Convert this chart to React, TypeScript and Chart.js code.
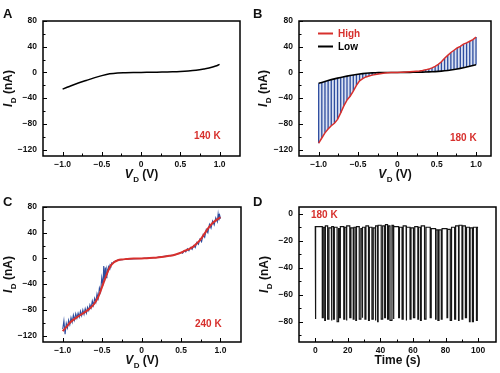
import React, { useEffect, useRef } from "react";
import { Chart, registerables } from "chart.js";

Chart.register(...registerables);

const FONT = "'Liberation Sans', Arial, Helvetica, sans-serif";
const RED = "#d7302d";
const BLUE = "#2e4d9f";
const INK = "#111111";

// ---------- Panel A (140 K) ----------
const vA = [-1.0, -0.95, -0.9, -0.8, -0.7, -0.6, -0.5, -0.4, -0.3, -0.2, -0.1, 0, 0.1, 0.2, 0.3, 0.4, 0.5, 0.6, 0.7, 0.8, 0.9, 0.95, 1.0];
const iA = [-26, -23.5, -21, -16.5, -12.5, -8.5, -5, -2.2, -0.8, -0.4, -0.15, 0, 0.2, 0.4, 0.7, 1.0, 1.5, 2.3, 3.5, 5.5, 8, 10, 12.5];

// ---------- Panel B (180 K) ----------
const vB = [-1, -0.96, -0.92, -0.88, -0.84, -0.8, -0.76, -0.72, -0.68, -0.64, -0.6, -0.56, -0.52, -0.48, -0.44, -0.4, -0.36, -0.32, -0.28, -0.24, -0.2, -0.16, -0.12, -0.08, -0.04, 0, 0.04, 0.08, 0.12, 0.16, 0.2, 0.24, 0.28, 0.32, 0.36, 0.4, 0.44, 0.48, 0.52, 0.56, 0.6, 0.64, 0.68, 0.72, 0.76, 0.8, 0.84, 0.88, 0.92, 0.96, 1];
const lowB = [-17, -15.5, -14, -12.5, -11.2, -10, -8.9, -7.8, -6.8, -5.8, -4.9, -4.0, -3.2, -2.5, -1.9, -1.4, -1.0, -0.7, -0.45, -0.3, -0.2, -0.1, -0.05, 0, 0, 0, 0, 0.05, 0.1, 0.15, 0.2, 0.3, 0.4, 0.5, 0.6, 0.8, 1.0, 1.3, 1.6, 2.0, 2.5, 3.1, 3.8, 4.6, 5.4, 6.3, 7.3, 8.4, 9.6, 10.8, 12];
const highB = [-110, -102, -94, -88, -83, -79, -73, -63, -52, -43, -37, -29, -20, -13, -9.5, -7, -5.5, -4.2, -3.2, -2.4, -1.6, -1.0, -0.6, -0.3, -0.1, 0, 0.1, 0.3, 0.6, 0.9, 1.3, 1.8, 2.3, 3.0, 4.0, 5.2, 7, 9.5, 12.5, 16.5, 22, 26.5, 31, 34.5, 38, 40.5, 44, 46, 48.5, 51, 55];

// ---------- Panel C (240 K) ----------
const vC = [-1, -0.95, -0.9, -0.85, -0.8, -0.75, -0.7, -0.65, -0.6, -0.55, -0.5, -0.45, -0.4, -0.35, -0.3, -0.25, -0.2, -0.15, -0.1, -0.05, 0, 0.05, 0.1, 0.15, 0.2, 0.25, 0.3, 0.35, 0.4, 0.45, 0.5, 0.55, 0.6, 0.65, 0.7, 0.75, 0.8, 0.85, 0.9, 0.95, 1];
const fitC = [-113, -106, -99, -94, -90, -86, -82, -77, -70.5, -60, -44, -27, -13, -6, -2.8, -1.6, -1, -0.6, -0.3, -0.1, 0, 0.3, 0.6, 1, 1.5, 2.2, 3, 4, 5, 6.8, 9, 12, 14.6, 18, 23.5, 30, 39, 48, 55, 60, 64];
const vCraw = [-1.0, -0.985, -0.97, -0.955, -0.94, -0.925, -0.91, -0.895, -0.88, -0.865, -0.85, -0.835, -0.82, -0.805, -0.79, -0.775, -0.76, -0.745, -0.73, -0.715, -0.7, -0.685, -0.67, -0.655, -0.64, -0.625, -0.61, -0.595, -0.58, -0.565, -0.55, -0.535, -0.52, -0.505, -0.49, -0.48, -0.47, -0.46, -0.45, -0.44, -0.43, -0.42, -0.41, -0.4, -0.39, -0.38, -0.37, -0.35, -0.3, -0.2, 0, 0.2, 0.4, 0.45, 0.5, 0.52, 0.54, 0.56, 0.58, 0.6, 0.62, 0.64, 0.66, 0.68, 0.7, 0.72, 0.74, 0.76, 0.78, 0.8, 0.82, 0.84, 0.86, 0.88, 0.9, 0.92, 0.94, 0.96, 0.97, 0.98, 0.99, 1.0];
const iCraw = [-110, -97, -118, -101, -108, -96, -103, -92, -99, -88, -96, -86, -93, -85, -91, -82, -89, -80, -87, -78, -85, -76, -81, -72, -77, -66, -73, -62, -68, -55, -62, -46, -52, -30, -42, -12, -36, -14, -30, -17, -22, -13, -16, -10, -12, -7, -8, -5, -2.6, -1.2, 0, 1.6, 5.2, 6.5, 9.5, 8, 12, 10, 15, 12, 17, 14, 20, 17, 25, 22, 30, 26, 37, 33, 45, 40, 53, 47, 58, 52, 63, 57, 69, 59, 67, 62];

// ---------- Panel D (180 K, time trace) ----------
const dropT = [0, 4.3, 5.8, 7.6, 9.9, 11.2, 13.4, 15.0, 17.5, 19.1, 21.2, 23.3, 24.9, 27.0, 28.8, 30.5, 32.7, 34.8, 36.8, 38.3, 40.5, 42.6, 44.4, 45.9, 47.9, 51.2, 53.3, 55.8, 58.2, 60.3, 63.0, 64.6, 67.1, 70.6, 73.9, 75.3, 77.4, 80.9, 82.9, 85.6, 88.0, 90.1, 92.2, 94.7, 96.5, 99.0];
const dropW = [0.3, 0.6, 0.4, 0.8, 0.3, 0.5, 0.9, 0.4, 0.6, 0.3, 0.7, 0.5, 0.4, 1.0, 0.3, 0.6, 0.5, 0.8, 0.4, 0.3, 0.9, 0.5, 0.6, 1.2, 0.4, 0.5, 0.7, 0.3, 0.6, 0.8, 0.4, 0.5, 0.9, 0.6, 0.3, 0.7, 0.5, 0.4, 0.8, 0.6, 0.3, 0.5, 0.7, 0.4, 0.6, 0.5];
const dropLo = [-78, -77, -79, -78, -79, -78, -80, -77, -78, -79, -77, -78, -79, -78, -77, -78, -79, -78, -79, -80, -78, -77, -78, -79, -78, -77, -78, -79, -78, -77, -78, -79, -78, -77, -78, -79, -78, -77, -79, -78, -79, -78, -77, -80, -80, -79];
const baseHi = [-9, -9.5, -10, -9, -10.5, -9.5, -10, -11, -9.5, -10, -9, -10.5, -10, -9.5, -11, -10, -9, -10, -10.5, -9, -8.5, -9, -8, -9, -8.5, -9.5, -10, -9, -10, -10.5, -9.5, -10, -9, -10, -11, -12, -12, -11, -11.5, -10, -9, -8.5, -9, -10, -10.5, -10, -10];
const tEnd = 100;

// ---------- Ticks ----------
const ivXMajor = [-1, -0.5, 0, 0.5, 1];
const ivXMinor = [-0.75, -0.25, 0.25, 0.75];
const ivYMajor = [-120, -80, -40, 0, 40, 80];
const ivYMinor = [-100, -60, -20, 20, 60];
const tXMajor = [0, 20, 40, 60, 80, 100];
const tXMinor = [10, 30, 50, 70, 90];
const tYMajor = [-80, -60, -40, -20, 0];
const tYMinor = [-90, -70, -50, -30, -10];

type Part = { t: string; italic?: boolean; sub?: boolean };
const titleV: Part[] = [{ t: "V", italic: true }, { t: "D", sub: true }, { t: " (V)" }];
const titleI: Part[] = [{ t: "I", italic: true }, { t: "D", sub: true }, { t: " (nA)" }];
const titleT: Part[] = [{ t: "Time (s)" }];

const minus = (s: string) => s.replace("-", "\u2212");
const fmt1 = (v: number) => (v === 0 ? "0" : minus(v.toFixed(1)));
const fmt0 = (v: number) => minus(String(Math.round(v)));

function drawRich(ctx: CanvasRenderingContext2D, parts: Part[], size: number) {
  const fontFor = (p: Part) => `${p.italic ? "italic " : ""}bold ${p.sub ? Math.round(size * 0.7) : size}px ${FONT}`;
  let total = 0;
  const widths = parts.map((p) => {
    ctx.font = fontFor(p);
    const w = ctx.measureText(p.t).width + (p.italic ? 0.5 : 0);
    total += w;
    return w;
  });
  let x = -total / 2;
  parts.forEach((p, i) => {
    ctx.font = fontFor(p);
    ctx.fillText(p.t, x, p.sub ? size * 0.3 : 0);
    x += widths[i];
  });
}

interface PanelOpts {
  letter: string;
  letterPos: [number, number];
  temp: string;
  tempPos: [number, number];
  xTitle: Part[];
  yTitle: Part[];
  yTitleX: number;
  xTitleY: number;
  xMajor: number[];
  xMinor: number[];
  yMajor: number[];
  yMinor: number[];
  legend?: boolean;
}

function framePlugin(o: PanelOpts) {
  return {
    id: "frame" + o.letter,
    afterDraw(chart: any) {
      const ctx: CanvasRenderingContext2D = chart.ctx;
      const { left, top, right, bottom } = chart.chartArea;
      const xs = chart.scales.x;
      const ys = chart.scales.y;
      ctx.save();
      ctx.strokeStyle = "#000";
      ctx.lineWidth = 1;
      ctx.beginPath();
      const tickX = (vals: number[], len: number) => {
        for (const v of vals) {
          const p = Math.round(xs.getPixelForValue(v)) + 0.5;
          ctx.moveTo(p, bottom);
          ctx.lineTo(p, bottom - len);
        }
      };
      const tickY = (vals: number[], len: number) => {
        for (const v of vals) {
          const p = Math.round(ys.getPixelForValue(v)) + 0.5;
          ctx.moveTo(left, p);
          ctx.lineTo(left + len, p);
        }
      };
      tickX(o.xMajor, 4);
      tickX(o.xMinor, 2.5);
      tickY(o.yMajor, 4);
      tickY(o.yMinor, 2.5);
      ctx.stroke();
      ctx.lineWidth = 1.5;
      ctx.strokeRect(left, top, right - left, bottom - top);

      ctx.fillStyle = INK;
      ctx.textBaseline = "alphabetic";
      ctx.textAlign = "left";
      ctx.font = `bold 13px ${FONT}`;
      ctx.fillText(o.letter, o.letterPos[0], o.letterPos[1]);
      ctx.fillStyle = RED;
      ctx.font = `bold 10px ${FONT}`;
      ctx.fillText(o.temp, o.tempPos[0], o.tempPos[1]);
      ctx.fillStyle = INK;
      ctx.save();
      ctx.translate((left + right) / 2, o.xTitleY);
      drawRich(ctx, o.xTitle, 12);
      ctx.restore();
      ctx.save();
      ctx.translate(o.yTitleX, (top + bottom) / 2);
      ctx.rotate(-Math.PI / 2);
      drawRich(ctx, o.yTitle, 12);
      ctx.restore();
      if (o.legend) {
        const items = [
          { label: "High", color: RED, y: 33.5 },
          { label: "Low", color: "#000", y: 46.5 },
        ];
        ctx.lineWidth = 2;
        ctx.font = `bold 10px ${FONT}`;
        ctx.textBaseline = "middle";
        for (const it of items) {
          ctx.strokeStyle = it.color;
          ctx.beginPath();
          ctx.moveTo(68, it.y);
          ctx.lineTo(83, it.y);
          ctx.stroke();
          ctx.fillStyle = it.color;
          ctx.fillText(it.label, 88, it.y + 0.5);
        }
      }
      ctx.restore();
    },
  };
}

function scaleOpts(
  min: number,
  max: number,
  major: number[],
  fmt: (v: number) => string,
  fit: (s: any) => void,
  padding: number
) {
  return {
    type: "linear" as const,
    min,
    max,
    afterBuildTicks: (s: any) => {
      s.ticks = major.map((v) => ({ value: v }));
    },
    afterFit: fit,
    grid: { display: false, drawTicks: false },
    border: { display: false },
    ticks: {
      padding,
      autoSkip: false,
      maxRotation: 0,
      color: INK,
      font: { size: 8.5, weight: "bold" as const, family: FONT },
      callback: (v: any) => fmt(Number(v)),
    },
  };
}

function buildConfig(
  datasets: any[],
  o: PanelOpts,
  area: { L: number; T: number; R: number; H: number },
  xr: [number, number],
  yr: [number, number],
  xfmt: (v: number) => string,
  extra: any = {}
) {
  return {
    type: "line" as const,
    data: { datasets },
    options: {
      responsive: false,
      animation: false as const,
      devicePixelRatio: 1,
      layout: { padding: { left: 0, top: area.T, right: area.R, bottom: 0 } },
      scales: {
        x: scaleOpts(xr[0], xr[1], o.xMajor, xfmt, (s: any) => { s.height = area.H; }, 4),
        y: scaleOpts(yr[0], yr[1], o.yMajor, fmt0, (s: any) => { s.width = area.L; }, 6),
      },
      elements: { point: { radius: 0 } },
      plugins: { legend: { display: false }, tooltip: { enabled: false }, ...extra },
    },
    plugins: [framePlugin(o)],
  };
}

const pts = (xs: number[], ys: number[]) => xs.map((x, i) => ({ x, y: ys[i] }));

function configA() {
  const o: PanelOpts = {
    letter: "A", letterPos: [3, 18], temp: "140 K", tempPos: [194, 139],
    xTitle: titleV, yTitle: titleI, yTitleX: 12, xTitleY: 178,
    xMajor: ivXMajor, xMinor: ivXMinor, yMajor: ivYMajor, yMinor: ivYMinor,
  };
  return buildConfig(
    [{ data: pts(vA, iA), borderColor: "#000", borderWidth: 1.5, cubicInterpolationMode: "monotone", fill: false }],
    o, { L: 43, T: 21, R: 10, H: 30 }, [-1.25, 1.26], [-130, 80], fmt1
  );
}

function configB() {
  const o: PanelOpts = {
    letter: "B", letterPos: [3, 18], temp: "180 K", tempPos: [200, 141],
    xTitle: titleV, yTitle: titleI, yTitleX: 17, xTitleY: 178,
    xMajor: ivXMajor, xMinor: ivXMinor, yMajor: ivYMajor, yMinor: ivYMinor, legend: true,
  };
  const bars: any[] = [];
  vB.forEach((v, i) => {
    bars.push({ x: v, y: lowB[i] }, { x: v, y: highB[i] }, { x: v, y: null });
  });
  return buildConfig(
    [
      { data: pts(vB, highB), borderColor: RED, borderWidth: 1.5, fill: 1, backgroundColor: "rgba(150,172,222,0.35)", order: 0 },
      { data: pts(vB, lowB), borderColor: "#000", borderWidth: 1.6, fill: false, order: 1 },
      { data: bars, borderColor: BLUE, borderWidth: 1.3, fill: false, spanGaps: false, order: 2 },
    ],
    o, { L: 49, T: 21, R: 9, H: 30 }, [-1.25, 1.19], [-130, 80], fmt1,
    { filler: { drawTime: "beforeDatasetsDraw" } }
  );
}

function configC() {
  const o: PanelOpts = {
    letter: "C", letterPos: [3, 20], temp: "240 K", tempPos: [195, 141],
    xTitle: titleV, yTitle: titleI, yTitleX: 12, xTitleY: 178,
    xMajor: ivXMajor, xMinor: ivXMinor, yMajor: ivYMajor, yMinor: ivYMinor,
  };
  return buildConfig(
    [
      { data: pts(vC, fitC), borderColor: RED, borderWidth: 2, cubicInterpolationMode: "monotone", fill: false, order: 0 },
      { data: pts(vCraw, iCraw), borderColor: BLUE, borderWidth: 1.1, fill: false, order: 1 },
    ],
    o, { L: 43, T: 21, R: 9, H: 31 }, [-1.25, 1.26], [-130, 80], fmt1
  );
}

function configD() {
  const o: PanelOpts = {
    letter: "D", letterPos: [3, 20], temp: "180 K", tempPos: [61, 32],
    xTitle: titleT, yTitle: titleI, yTitleX: 18, xTitleY: 178,
    xMajor: tXMajor, xMinor: tXMinor, yMajor: tYMajor, yMinor: tYMinor,
  };
  const trace: any[] = [];
  dropT.forEach((t, i) => {
    trace.push(
      { x: t, y: baseHi[i] },
      { x: t, y: dropLo[i] },
      { x: t + dropW[i], y: dropLo[i] },
      { x: t + dropW[i], y: baseHi[i + 1] }
    );
  });
  trace.push({ x: tEnd, y: baseHi[baseHi.length - 1] });
  return buildConfig(
    [{ data: trace, borderColor: "#151515", borderWidth: 1.2, fill: false }],
    o, { L: 49, T: 21, R: 4, H: 31 }, [-10, 111], [-95, 5], fmt0
  );
}

function Panel({ left, top, width, height, build }: { left: number; top: number; width: number; height: number; build: () => any }) {
  const ref = useRef<HTMLCanvasElement>(null);
  useEffect(() => {
    const chart = new Chart(ref.current as HTMLCanvasElement, build());
    return () => chart.destroy();
  }, []);
  return (
    <canvas
      ref={ref}
      width={width}
      height={height}
      style={{ position: "absolute", left, top, width, height, display: "block" }}
    />
  );
}

export default function App() {
  return (
    <div style={{ position: "fixed", left: 0, top: 0, width: 500, height: 373, background: "#fff", overflow: "hidden" }}>
      <Panel left={0} top={0} width={250} height={186} build={configA} />
      <Panel left={250} top={0} width={250} height={186} build={configB} />
      <Panel left={0} top={186} width={250} height={187} build={configC} />
      <Panel left={250} top={186} width={250} height={187} build={configD} />
    </div>
  );
}
